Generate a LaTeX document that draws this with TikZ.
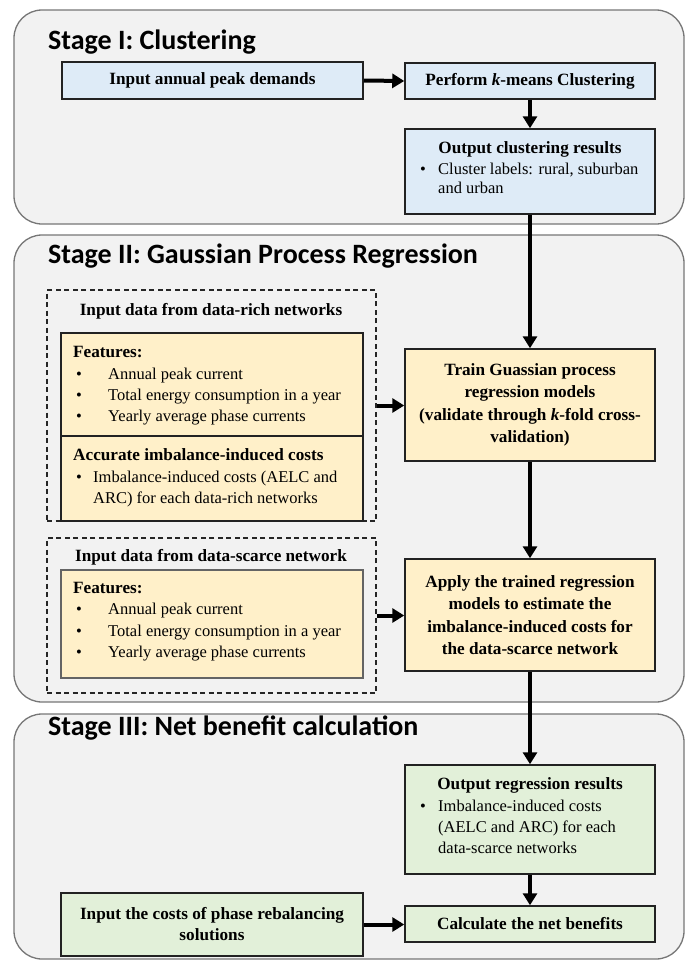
\documentclass[tikz,border=0pt]{standalone}
\usepackage{fontspec}
\setmainfont{Liberation Serif}
\newfontfamily\calib{Carlito}
\usetikzlibrary{arrows.meta}
\definecolor{panelfill}{HTML}{F2F2F2}
\definecolor{panelline}{HTML}{767676}
\definecolor{bluefill}{HTML}{DEEBF7}
\definecolor{yelfill}{HTML}{FFF0C9}
\definecolor{grnfill}{HTML}{E2F0D9}
\definecolor{boxline}{HTML}{222222}
\begin{document}
\begin{tikzpicture}[x=1pt,y=-1pt,
 panel/.style={draw=panelline, fill=panelfill, line width=1.3pt, rounded corners=28pt},
 stagetitle/.style={anchor=base west, inner sep=0pt, font=\calib\bfseries\fontsize{28}{30}\selectfont},
 box/.style={draw=boxline, line width=1.5pt, rectangle, inner sep=0pt, align=center, font=\rmfamily\bfseries\fontsize{17.2}{22.5}\selectfont},
 dashbox/.style={draw=black!85, dash pattern=on 5pt off 3.5pt, line width=1.2pt, rectangle, inner sep=0pt},
 txt/.style={anchor=base west, inner sep=0pt, font=\rmfamily\mdseries\fontsize{16.5}{21}\selectfont},
 btxt/.style={anchor=base west, inner sep=0pt, font=\rmfamily\bfseries\fontsize{17.2}{21}\selectfont},
 ctxt/.style={anchor=base, inner sep=0pt, font=\rmfamily\bfseries\fontsize{17.2}{21}\selectfont},
 arr/.style={-{Triangle[length=12pt,width=14pt]}, line width=4pt, black},
]
\path[use as bounding box] (0,0) rectangle (686,961);

% panels
\draw[panel] (14,10) rectangle (684,224);
\draw[panel] (14,235) rectangle (684,702);
\draw[panel] (14,714) rectangle (684,959);

\node[stagetitle] (t1) at (48,49) {Stage I: Clustering};
\node[stagetitle] (t2) at (48,263) {Stage II: Gaussian Process Regression};
\node[stagetitle] (t3) at (48,735) {Stage III: Net benefit calculation};

% Stage I
\node[box, fill=bluefill, minimum width=301pt, minimum height=37pt] (in1) at (212.5,80.5) {Input annual peak demands};
\node[box, fill=bluefill, minimum width=250pt, minimum height=36pt] (km) at (530,81) {Perform \textit{k}-means Clustering};
\node[box, fill=bluefill, minimum width=250pt, minimum height=85pt] (oc) at (530,171.5) {};
\node[ctxt] (octitle) at (530,153) {Output clustering results};
\node[txt] (ocb) at (420,174) {•};
\node[txt] (oc1) at (438,174) {Cluster labels: rural, suburban};
\node[txt] (oc2) at (438,193) {and urban};

% Stage II - data-rich
\node[dashbox, minimum width=329pt, minimum height=231pt] (rich) at (211.5,405.5) {};
\node[ctxt] (richtitle) at (211,315) {Input data from data-rich networks};
\node[box, fill=yelfill, minimum width=302pt, minimum height=103pt] (feat1) at (212,384.5) {};
\node[box, fill=yelfill, minimum width=302pt, minimum height=85pt] (acc) at (212,478.5) {};
\node[btxt] (f1t) at (73,357) {Features:};
\node[txt] (f1b1) at (76,379) {•};
\node[txt] (f1l1) at (108,379) {Annual peak current};
\node[txt] (f1b2) at (76,400) {•};
\node[txt] (f1l2) at (108,400) {Total energy consumption in a year};
\node[txt] (f1b3) at (76,421) {•};
\node[txt] (f1l3) at (108,421) {Yearly average phase currents};
\node[btxt] (acct) at (73,460) {Accurate imbalance-induced costs};
\node[txt] (accb) at (76,482) {•};
\node[txt] (acc1) at (93,482) {Imbalance-induced costs (AELC and};
\node[txt] (acc2) at (93,503) {ARC) for each data-rich networks};

\node[box, fill=yelfill, minimum width=250pt, minimum height=112pt] (train) at (530,405)
 {Train Guassian process\\regression models\\(validate through \textit{k}-fold cross-\\validation)};

% Stage II - data-scarce
\node[dashbox, minimum width=329pt, minimum height=155pt] (scarce) at (211.5,615.5) {};
\node[ctxt] (scarcetitle) at (211,561) {Input data from data-scarce network};
\node[box, draw=boxline!70, fill=yelfill, minimum width=302pt, minimum height=108pt] (feat2) at (212,624) {};
\node[btxt] (f2t) at (73,593) {Features:};
\node[txt] (f2b1) at (76,614) {•};
\node[txt] (f2l1) at (108,614) {Annual peak current};
\node[txt] (f2b2) at (76,636) {•};
\node[txt] (f2l2) at (108,636) {Total energy consumption in a year};
\node[txt] (f2b3) at (76,657) {•};
\node[txt] (f2l3) at (108,657) {Yearly average phase currents};

\node[box, fill=yelfill, minimum width=250pt, minimum height=112pt] (apply) at (530,615)
 {Apply the trained regression\\models to estimate the\\imbalance-induced costs for\\the data-scarce network};

% Stage III
\node[box, fill=grnfill, minimum width=250pt, minimum height=109pt] (outreg) at (530,819.5) {};
\node[ctxt] (ortitle) at (530,789) {Output regression results};
\node[txt] (orb) at (420,811) {•};
\node[txt] (or1) at (438,811) {Imbalance-induced costs};
\node[txt] (or2) at (438,832) {(AELC and ARC) for each};
\node[txt] (or3) at (438,853) {data-scarce networks};

\node[box, fill=grnfill, minimum width=250pt, minimum height=36pt] (calc) at (530,924) {Calculate the net benefits};
\node[box, fill=grnfill, minimum width=302pt, minimum height=63pt, font=\rmfamily\bfseries\fontsize{17.2}{21}\selectfont] (costs) at (212,924.5)
 {Input the costs of phase rebalancing\\solutions};

% arrows
\draw[arr] (in1.east) -- (km.west);
\draw[arr] (km) -- (oc);
\draw[arr] (oc) -- (train);
\draw[arr] (rich.east) -- (train.west |- rich.east);
\draw[arr] (train) -- (apply);
\draw[arr] (scarce.east) -- (apply.west |- scarce.east);
\draw[arr] (apply) -- (outreg);
\draw[arr] (outreg) -- (calc);
\draw[arr] (costs.east) -- (calc.west |- costs.east);
\end{tikzpicture}
\end{document}
